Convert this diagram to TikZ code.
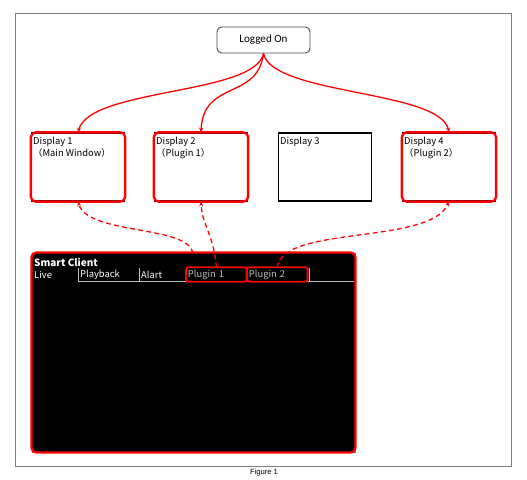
\documentclass[tikz,border=0pt]{standalone}
\usepackage{fontspec}
\setmainfont{Noto Sans CJK JP}
\newfontfamily\calfont{Carlito}
\newfontfamily\arialfont{Liberation Sans}
\usepackage{xcolor}
\definecolor{FrameGray}{HTML}{7F7F7F}
\definecolor{LinkRed}{HTML}{FF0000}
\definecolor{TabGray}{HTML}{BFBFBF}
\usepackage{tikz}
\usetikzlibrary{arrows.meta, positioning}
\tikzset{
  disp/.style={
    rectangle, draw=black, line width=1pt,
    minimum width=2.79cm, minimum height=2.04cm, inner sep=0pt
  },
  redframe/.style={draw=LinkRed, line width=2pt, rounded corners=4pt},
  dtext/.style={anchor=north west, align=left, inner sep=0pt,
    font=\fontsize{8}{10.5}\selectfont},
  tabtext/.style={anchor=west, inner sep=0pt, text=white,
    font=\fontsize{8}{9}\selectfont},
  plugtab/.style={tabtext, text=TabGray, text width=1.7cm, align=left,
    minimum height=0.42cm, inner xsep=1.5pt},
  tabline/.style={draw=TabGray, line width=0.5pt},
  tabsel/.style={draw=LinkRed, line width=1.6pt, rounded corners=2pt},
  arr/.style={-{Stealth[length=4pt, width=3.5pt]}, line width=1.1pt, color=LinkRed},
  dArr/.style={arr, dash pattern=on 4pt off 3pt},
}

\begin{document}
\begin{tikzpicture}[x=0.03cm, y=-0.03cm]

\useasboundingbox (0,0) rectangle (527,480);
\draw[FrameGray, line width=0.8pt] (15,13) rectangle (511,466);
\node[font=\arialfont\fontsize{6.5}{7.5}\selectfont] (cap) at (264,473) {Figure 1};

% top node
\node[draw=black!70, line width=0.8pt, rounded corners=4pt,
  minimum width=2.79cm, minimum height=0.78cm, inner sep=0pt,
  font=\calfont\fontsize{9.5}{11}\selectfont] (log) at (263.5,40) {Logged On};

% displays
\node[disp] (d1) at (78,167) {};
\node[disp] (d2) at (201,167) {};
\node[disp] (d3) at (325,167) {};
\node[disp] (d4) at (449,167) {};
\foreach \d in {d1,d2,d4}
  \draw[redframe] (\d.north west) rectangle (\d.south east);

\node[dtext] (t1) at (33,137) {Display 1\\（Main Window）};
\node[dtext] (t2) at (156,137) {Display 2\\（Plugin 1）};
\node[dtext] (t3) at (280,137) {Display 3};
\node[dtext] (t4) at (404,137) {Display 4\\（Plugin 2）};

% smart client window
\node[rectangle, fill=black, draw=FrameGray, line width=0.8pt,
  minimum width=9.69cm, minimum height=5.97cm, inner sep=0pt] (sc) at (193.5,352.5) {};
\draw[redframe, fill=black] (sc.north west) rectangle (sc.south east);
\node[anchor=west, inner sep=0pt, text=white,
  font=\bfseries\fontsize{8.5}{10}\selectfont] (title) at (34,262) {Smart Client};

\draw[tabline] (78,281) -- (354,281);
\foreach \x in {78,139,186,247,309}
  \draw[tabline] (\x,268) -- (\x,281);
\node[tabtext] (live) at (34,275) {Live};
\node[tabtext] (play) at (80,275) {Playback};
\node[tabtext] (alart) at (141,275) {Alart};
\node[plugtab] (p1) at (186,274.5) {Plugin 1};
\node[plugtab] (p2) at (247,274.5) {Plugin 2};
\draw[tabsel] (p1.north west) rectangle (p1.south east);
\draw[tabsel] (p2.north west) rectangle (p2.south east);

% links
\draw[arr] (log.south) .. controls (255,95) and (90,88) .. (d1.north);
\draw[arr] (log.south) .. controls (258,100) and (203,80) .. (d2.north);
\draw[arr] (log.south) .. controls (272,95) and (440,90) .. (d4.north);

\coordinate (scp1) at (193,253);
\draw[dArr] (scp1) .. controls (188,225) and (88,235) .. (d1.south);
\draw[dArr] (p1.north) .. controls (214,235) and (202,225) .. (d2.south);
\draw[dArr] (p2.north) .. controls (282,225) and (430,245) .. (d4.south);

\end{tikzpicture}
\end{document}
